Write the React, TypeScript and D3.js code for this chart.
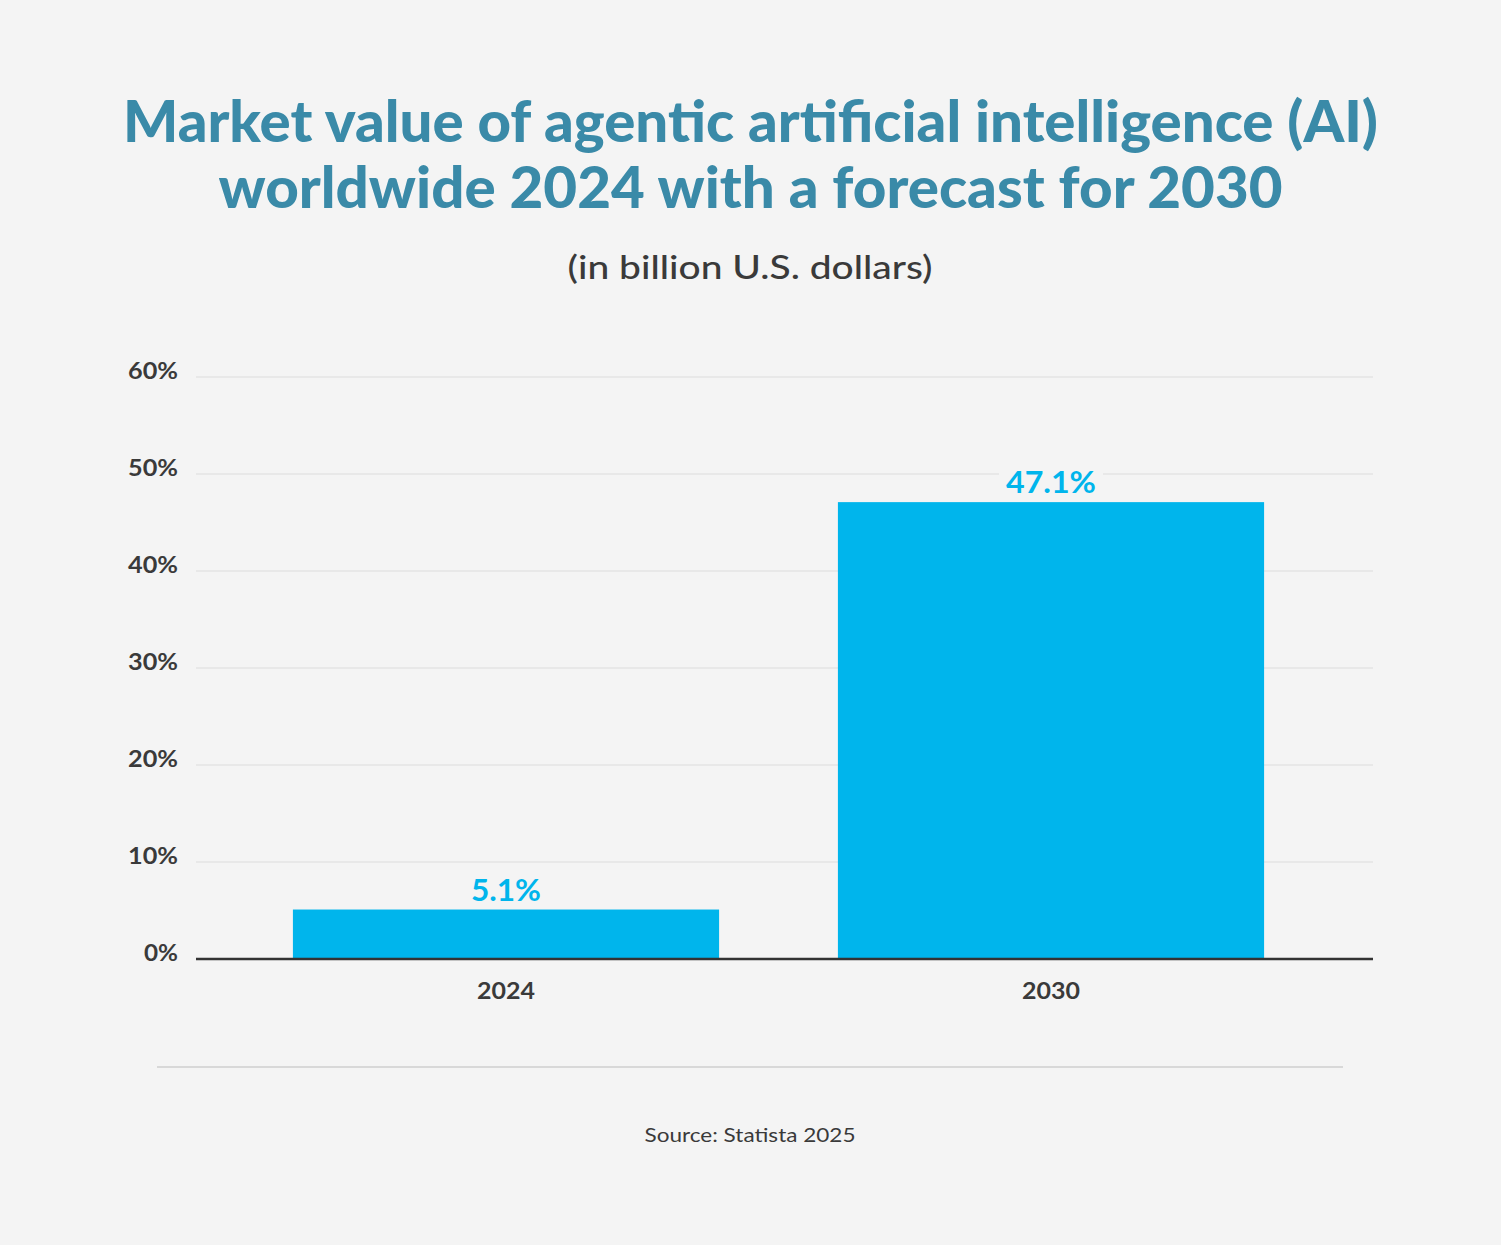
import React, { useEffect } from "react";
import * as d3 from "d3";

const categories = ["2024", "2030"];
const values = [5.1, 47.1];
const valueLabels = ["5.1%", "47.1%"];
const yTicks = [0, 10, 20, 30, 40, 50, 60];
const titleLines = [
  "Market value of agentic artificial intelligence (AI)",
  "worldwide 2024 with a forecast for 2030",
];
const subtitle = "(in billion U.S. dollars)";
const source = "Source: Statista 2025";

const W = 1501;
const H = 1245;
const BG = "#f4f4f4";
const BAR = "#00b5ec";
const TITLE = "#3a8aa8";
const TEXT = "#3a3a3a";

// approximate rendered widths of the reference's (wide, geometric) font
const widthOf = (s: string, digit: number, pct: number, dot: number) =>
  s.split("").reduce((acc, ch) => acc + (ch === "%" ? pct : ch === "." ? dot : digit), 0);

export default function App() {
  useEffect(() => {
    document.body.style.margin = "0";
    document.body.style.background = BG;
  }, []);

  const y = d3.scaleLinear().domain([0, 60]).range([959, 377]);
  const x = d3
    .scaleBand<string>()
    .domain(categories)
    .range([233.5, 1323.5])
    .paddingInner(0.218)
    .paddingOuter(0.109);
  const plotLeft = 196;
  const plotRight = 1373;

  const font = "Lato, 'Open Sans', sans-serif";

  return (
    <svg width={W} height={H} style={{ display: "block" }} fontFamily={font}>
      <rect x={0} y={0} width={W} height={H} fill={BG} />
      <text
        x={W / 2}
        y={142}
        textAnchor="middle"
        fontWeight={900}
        fontSize={57}
        fill={TITLE}
        textLength={1255}
        lengthAdjust="spacingAndGlyphs"
      >
        {titleLines[0]}
      </text>
      <text
        x={W / 2}
        y={208}
        textAnchor="middle"
        fontWeight={900}
        fontSize={57}
        fill={TITLE}
        textLength={1064}
        lengthAdjust="spacingAndGlyphs"
      >
        {titleLines[1]}
      </text>
      <text
        x={750}
        y={279}
        textAnchor="middle"
        fontSize={33}
        fontWeight={500}
        fill={TEXT}
        textLength={365}
        lengthAdjust="spacingAndGlyphs"
      >
        {subtitle}
      </text>

      {yTicks.map((t) => {
        const label = `${t}%`;
        return (
          <g key={t}>
            {t !== 0 && (
              <line
                x1={plotLeft}
                x2={plotRight}
                y1={y(t)}
                y2={y(t)}
                stroke="#dcdcdc"
                strokeWidth={1.2}
              />
            )}
            <text
              x={178}
              y={y(t) + 2}
              textAnchor="end"
              fontSize={22}
              fontWeight={700}
              fill={TEXT}
              textLength={widthOf(label, 16, 18, 7)}
              lengthAdjust="spacingAndGlyphs"
            >
              {label}
            </text>
          </g>
        );
      })}

      {categories.map((c, i) => {
        const bx = x(c)!;
        const bw = x.bandwidth();
        const by = y(values[i]);
        const cx = bx + bw / 2;
        const labelW = widthOf(valueLabels[i], 20, 23, 7);
        return (
          <g key={c}>
            <rect x={bx} y={by} width={bw} height={y(0) - by} fill={BAR} />
            <rect
              x={cx - labelW / 2 - 7}
              y={by - 36}
              width={labelW + 14}
              height={30}
              fill={BG}
            />
            <text
              x={cx}
              y={by - 9}
              textAnchor="middle"
              fontSize={31}
              fontWeight={700}
              fill={BAR}
              textLength={labelW}
              lengthAdjust="spacingAndGlyphs"
            >
              {valueLabels[i]}
            </text>
            <text
              x={cx}
              y={999}
              textAnchor="middle"
              fontSize={22}
              fontWeight={700}
              fill={TEXT}
              textLength={widthOf(c, 14.5, 0, 0)}
              lengthAdjust="spacingAndGlyphs"
            >
              {c}
            </text>
          </g>
        );
      })}

      <line
        x1={plotLeft}
        x2={plotRight}
        y1={y(0)}
        y2={y(0)}
        stroke="#333"
        strokeWidth={2.5}
      />

      <line x1={157} x2={1343} y1={1067} y2={1067} stroke="#cfcfcf" strokeWidth={1.5} />
      <text
        x={750}
        y={1142}
        textAnchor="middle"
        fontSize={20}
        fill={TEXT}
        textLength={211}
        lengthAdjust="spacingAndGlyphs"
      >
        {source}
      </text>
    </svg>
  );
}
